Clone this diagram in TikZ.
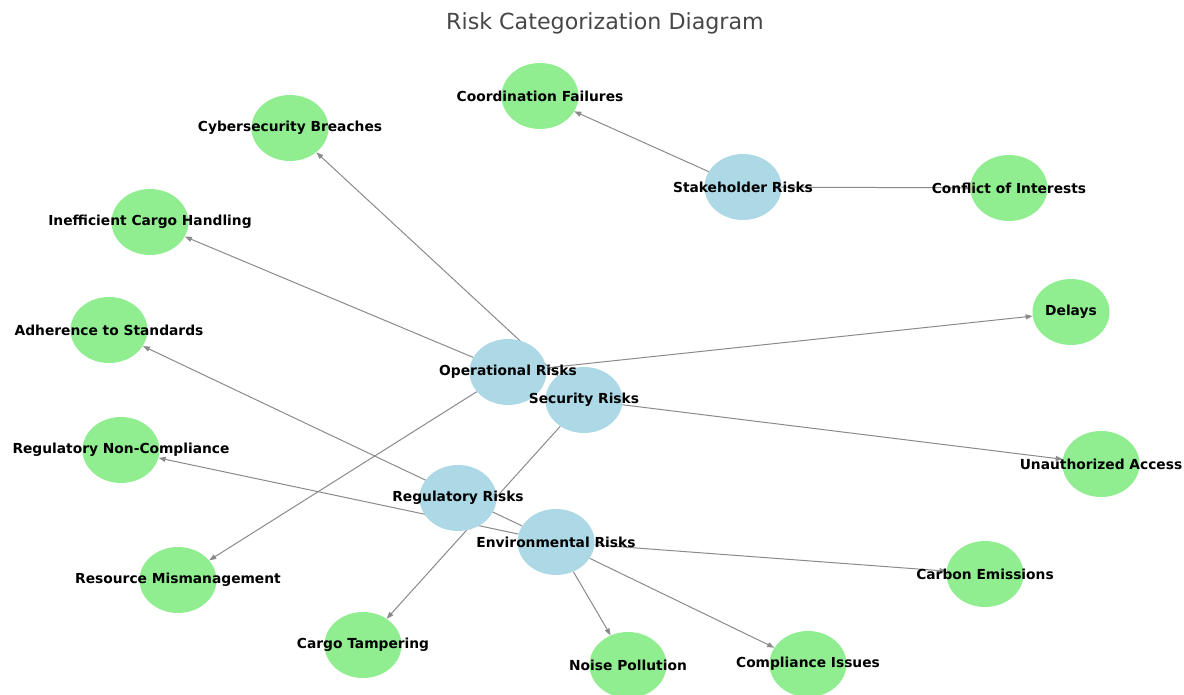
\documentclass[tikz,border=0pt]{standalone}
\usepackage{fontspec}
\setmainfont{DejaVu Sans}
\usepackage{xcolor}
\usetikzlibrary{shapes.geometric, arrows.meta, positioning, backgrounds}

\definecolor{catblue}{HTML}{ADD8E6}
\definecolor{leafgreen}{HTML}{90EE90}
\definecolor{edgegray}{HTML}{8A8A8A}

\begin{document}
\begin{tikzpicture}[x=1pt, y=-1pt,
    catnode/.style={ellipse, fill=catblue, minimum width=77pt, minimum height=66pt, inner sep=0pt},
    leafnode/.style={ellipse, fill=leafgreen, minimum width=77pt, minimum height=66pt, inner sep=0pt},
    lbl/.style={font=\fontsize{13.8}{16}\selectfont\bfseries, inner sep=0pt},
    edge/.style={draw=edgegray, line width=1pt, -{Triangle[length=7pt, width=5pt]}}]
    \useasboundingbox (0,0) rectangle (1184,695);

    % Title
    \node[font=\fontsize{22.2}{25}\selectfont, text=black!72] (title) at (605,23) {Risk Categorization Diagram};

    % Category nodes
    \foreach \name/\x/\y in {stk/743/187, opr/508/372, sec/584/400, reg/458/498, env/556/542} {
        \node[catnode] (\name) at (\x,\y) {};
    }

    % Risk nodes
    \foreach \name/\x/\y in {coord/540/96, cyber/290/128, confl/1009/188, cargoh/150/222,
        delay/1071/312, adher/109/330, noncomp/121/450, unauth/1101/464,
        carbon/985/574, resour/178/580, tamper/363/645, noise/628/665, compl/808/664} {
        \node[leafnode] (\name) at (\x,\y) {};
    }

    % Edges (behind the nodes)
    \begin{scope}[on background layer]
    \foreach \a/\b in {stk/coord, stk/confl, opr/cargoh, opr/delay, opr/resour,
        sec/cyber, sec/unauth, sec/tamper, env/adher, env/noncomp,
        env/carbon, env/noise, env/compl} {
        \draw[edge] (\a) -- (\b);
    }
    \end{scope}

    % Labels on top
    \foreach \name/\txt in {stk/Stakeholder Risks, opr/Operational Risks, sec/Security Risks,
        reg/Regulatory Risks, env/Environmental Risks, coord/Coordination Failures,
        cyber/Cybersecurity Breaches, confl/Conflict of Interests,
        cargoh/Inefficient Cargo Handling, delay/Delays, adher/Adherence to Standards,
        noncomp/Regulatory Non-Compliance, unauth/Unauthorized Access,
        carbon/Carbon Emissions, resour/Resource Mismanagement, tamper/Cargo Tampering,
        noise/Noise Pollution, compl/Compliance Issues} {
        \node[lbl] (\name-l) at (\name) {\txt};
    }
\end{tikzpicture}
\end{document}
